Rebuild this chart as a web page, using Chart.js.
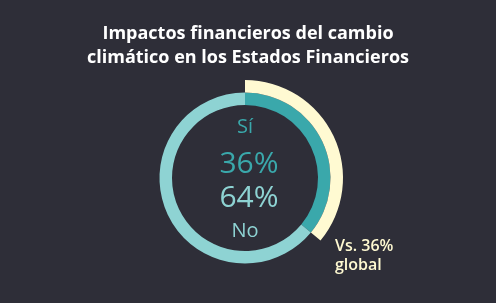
<!DOCTYPE html>
<html lang="es">
<head>
    <meta charset="UTF-8">
    <title>Impactos financieros del cambio climático</title>
    <script src="https://cdnjs.cloudflare.com/ajax/libs/Chart.js/4.4.0/chart.umd.min.js"></script>
    <style>
        body {
            margin: 0;
            background-color: #2e2e38;
            font-family: "Open Sans", sans-serif;
            overflow: hidden;
        }
        .wrap {
            position: relative;
            width: 496px;
            height: 303px;
        }
        canvas {
            position: absolute;
            left: 0;
            top: 0;
        }
        h1 {
            position: absolute;
            left: 0;
            top: 20px;
            width: 496px;
            margin: 0;
            text-align: center;
            color: #ffffff;
            font-size: 18px;
            font-weight: 700;
            line-height: 24px;
        }
        .lbl {
            position: absolute;
            width: 120px;
            left: 185px;
            text-align: center;
            margin: 0;
        }
        #si { top: 112px; font-size: 20px; color: #3aa8ab; }
        #siVal { top: 141px; left: 189px; font-size: 30px; color: #3aa8ab; }
        #noVal { top: 175px; left: 189px; font-size: 30px; color: #8ed3d3; }
        #no { top: 216px; font-size: 20px; color: #8ed3d3; }
        #global {
            position: absolute;
            left: 335px;
            top: 236px;
            color: #fffad2;
            font-size: 16px;
            line-height: 19px;
            font-weight: 600;
        }
    </style>
</head>
<body>
<div class="wrap">
    <canvas id="ring" width="496" height="303"></canvas>
    <h1>Impactos financieros del cambio<br>climático en los Estados Financieros</h1>
    <div class="lbl" id="si">Sí</div>
    <div class="lbl" id="siVal">36%</div>
    <div class="lbl" id="noVal">64%</div>
    <div class="lbl" id="no">No</div>
    <div id="global">Vs. 36%<br>global</div>
</div>
<script>
    // Survey answers (percent)
    const categories = ['Sí', 'No'];
    const localValues = [36, 64];
    const globalValues = [36, 64];

    new Chart(document.getElementById('ring'), {
        type: 'doughnut',
        data: {
            labels: categories,
            datasets: [
                {
                    // outer ring: only the global "Sí" share is shown
                    label: 'Global',
                    data: globalValues,
                    backgroundColor: ['#fffad2', 'rgba(0,0,0,0)'],
                    borderWidth: 0
                },
                {
                    label: 'Local',
                    data: localValues,
                    backgroundColor: ['#3aa8ab', '#8ed3d3'],
                    borderWidth: 0
                }
            ]
        },
        options: {
            responsive: false,
            animation: false,
            cutout: 73,
            layout: {
                padding: { left: 147, right: 153, top: 80, bottom: 27 }
            },
            plugins: {
                legend: { display: false },
                tooltip: { enabled: false }
            }
        }
    });
</script>
</body>
</html>
